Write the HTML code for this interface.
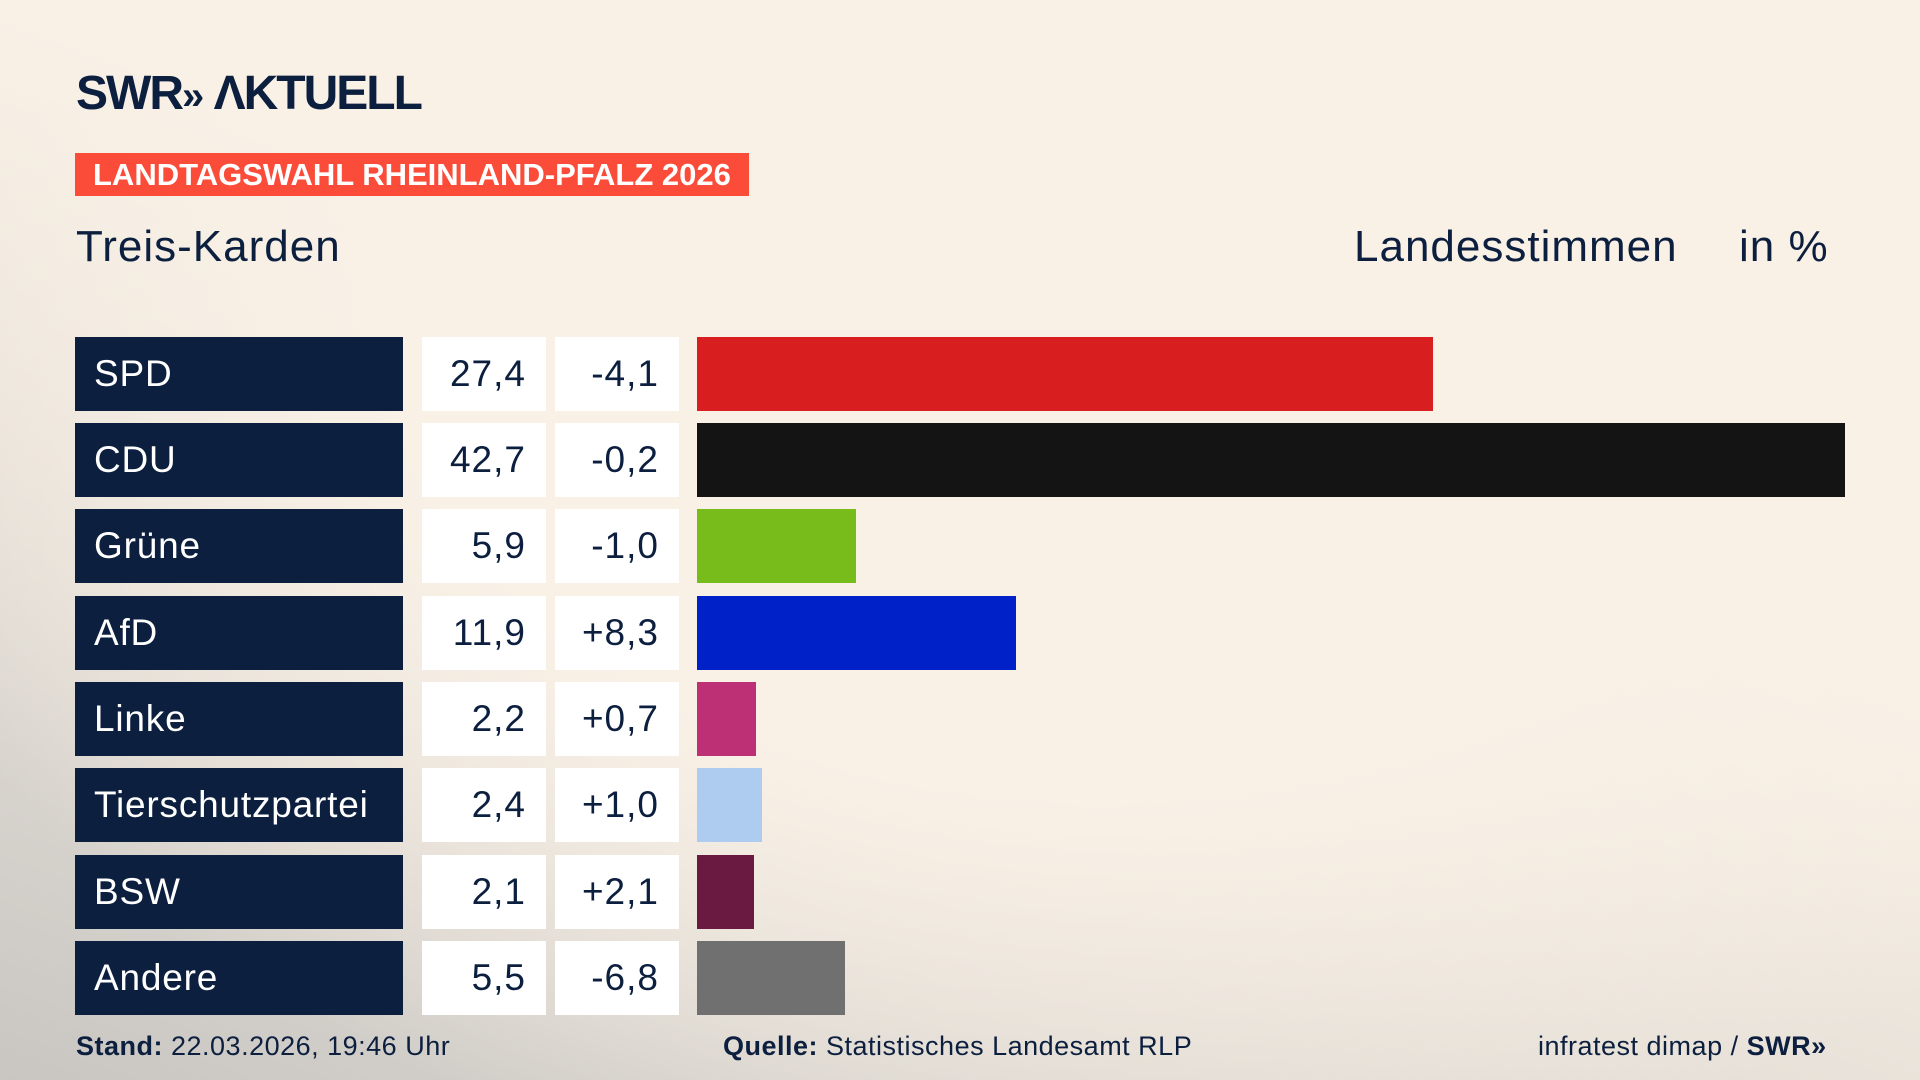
<!DOCTYPE html>
<html><head><meta charset="utf-8"><style>
*{margin:0;padding:0;box-sizing:border-box}
body{width:1920px;height:1080px;overflow:hidden;position:relative;font-family:"Liberation Sans","DejaVu Sans",sans-serif;color:#0c1f3f;
background:radial-gradient(ellipse 1300px 900px at 1100px 300px,#f9f1e6 55%,rgba(249,241,230,0) 100%),linear-gradient(20deg,#c9c6c2 0%,#e6e0d8 35%,#f9f1e6 60%);background-color:#f9f1e6}
.a{position:absolute}
.logo{left:76px;top:66px;font-size:48px;font-weight:bold;letter-spacing:-2px;color:#0c1f3f}
.banner{left:75px;top:153px;width:674px;height:43px;background:#fb4c3a;color:#fff;font-weight:bold;font-size:31px;line-height:43px;padding-left:18px;white-space:nowrap}
.h{font-size:44px;top:222px;letter-spacing:1px}
.row{position:absolute;left:0;height:74px}
.name{position:absolute;left:75px;width:328px;height:74px;background:#0c1f3f;color:#fff;font-size:37px;line-height:74px;padding-left:19px;letter-spacing:0.8px}
.v{position:absolute;width:124px;height:74px;background:#fff;font-size:37px;line-height:74px;text-align:right;padding-right:20px;color:#0c1f3f;letter-spacing:1px}
.bar{position:absolute;left:697px;height:74px}
.f{top:1031px;font-size:27px;letter-spacing:0.5px}
</style></head><body>
<div class="a logo">SWR<span style="font-size:40px">»</span> ΛKTUELL</div>
<div class="a banner">LANDTAGSWAHL RHEINLAND-PFALZ 2026</div>
<div class="a h" style="left:76px">Treis-Karden</div>
<div class="a h" style="left:1354px">Landesstimmen</div>
<div class="a h" style="left:1739px">in %</div>

<div class="row" style="top:337px"><div class="name">SPD</div><div class="v" style="left:422px">27,4</div><div class="v" style="left:555px">-4,1</div><div class="bar" style="width:736px;background:#d81e1e"></div></div>
<div class="row" style="top:423px"><div class="name">CDU</div><div class="v" style="left:422px">42,7</div><div class="v" style="left:555px">-0,2</div><div class="bar" style="width:1148px;background:#141414"></div></div>
<div class="row" style="top:509px"><div class="name">Grüne</div><div class="v" style="left:422px">5,9</div><div class="v" style="left:555px">-1,0</div><div class="bar" style="width:159px;background:#78bc1b"></div></div>
<div class="row" style="top:596px"><div class="name">AfD</div><div class="v" style="left:422px">11,9</div><div class="v" style="left:555px">+8,3</div><div class="bar" style="width:319px;background:#0021c8"></div></div>
<div class="row" style="top:682px"><div class="name">Linke</div><div class="v" style="left:422px">2,2</div><div class="v" style="left:555px">+0,7</div><div class="bar" style="width:59px;background:#bd3076"></div></div>
<div class="row" style="top:768px"><div class="name">Tierschutzpartei</div><div class="v" style="left:422px">2,4</div><div class="v" style="left:555px">+1,0</div><div class="bar" style="width:65px;background:#aecbf0"></div></div>
<div class="row" style="top:855px"><div class="name">BSW</div><div class="v" style="left:422px">2,1</div><div class="v" style="left:555px">+2,1</div><div class="bar" style="width:57px;background:#6a1a40"></div></div>
<div class="row" style="top:941px"><div class="name">Andere</div><div class="v" style="left:422px">5,5</div><div class="v" style="left:555px">-6,8</div><div class="bar" style="width:148px;background:#707070"></div></div>

<div class="a f" style="left:76px"><b>Stand:</b> 22.03.2026, 19:46 Uhr</div>
<div class="a f" style="left:723px"><b>Quelle:</b> Statistisches Landesamt RLP</div>
<div class="a f" style="left:1538px">infratest dimap / <b>SWR»</b></div>
</body></html>
